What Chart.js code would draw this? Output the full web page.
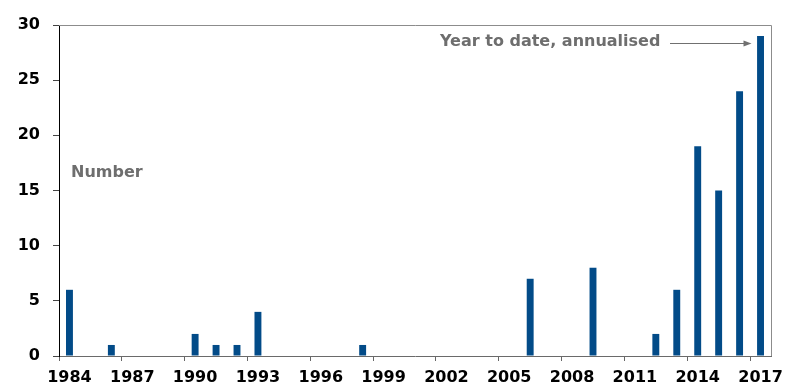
<!DOCTYPE html>
<html>
<head>
<meta charset="utf-8">
<script src="https://cdn.jsdelivr.net/npm/chart.js@4/dist/chart.umd.min.js"></script>
<style>
  html, body { margin: 0; padding: 0; background: #fff; }
  #wrap { width: 800px; height: 389px; position: relative; }
</style>
</head>
<body>
<div id="wrap"><canvas id="barChart"></canvas></div>
<script>
// Categories: one per year
const years = [
    '1984', '1985', '1986', '1987', '1988', '1989', '1990', '1991', '1992', '1993',
    '1994', '1995', '1996', '1997', '1998', '1999', '2000', '2001', '2002', '2003',
    '2004', '2005', '2006', '2007', '2008', '2009', '2010', '2011', '2012', '2013',
    '2014', '2015', '2016', '2017'
];

// Number per year (2017 = year to date, annualised)
const counts = [
    6, 0, 1, 0, 0, 0, 2, 1, 1, 4,
    0, 0, 0, 0, 1, 0, 0, 0, 0, 0,
    0, 0, 7, 0, 0, 8, 0, 0, 2, 6,
    19, 15, 24, 29
];

const yTicks = [0, 5, 10, 15, 20, 25, 30];

const BAR_BLUE = '#024b88';
const NOTE_GREY = '#6e6e6e';
const FONT = '"DejaVu Sans", Verdana, sans-serif';

/**
 * Top/right frame, annotations and arrow
 */
const overlayPlugin = {
    id: 'overlay',
    afterDraw(chart) {
        const { ctx, chartArea: a, scales } = chart;
        ctx.save();

        // gray frame on top and right
        ctx.strokeStyle = '#8c8c8c';
        ctx.lineWidth = 1;
        ctx.beginPath();
        ctx.moveTo(a.left, a.top + 0.5);
        ctx.lineTo(a.right + 0.5, a.top + 0.5);
        ctx.lineTo(a.right + 0.5, a.bottom);
        ctx.stroke();

        // notes
        ctx.fillStyle = NOTE_GREY;
        ctx.font = 'bold 16px ' + FONT;
        ctx.textBaseline = 'middle';
        ctx.textAlign = 'left';
        ctx.fillText('Number', 71, 173);
        ctx.fillText('Year to date, annualised', 440, 42);

        // arrow to last bar
        const lastX = scales.x.getPixelForValue(years.length - 1) - 12;
        const ay = 43;
        ctx.strokeStyle = '#707070';
        ctx.beginPath();
        ctx.moveTo(670, ay + 0.5);
        ctx.lineTo(lastX, ay + 0.5);
        ctx.stroke();
        ctx.fillStyle = '#707070';
        ctx.beginPath();
        ctx.moveTo(lastX + 3, ay + 0.5);
        ctx.lineTo(lastX - 5, ay - 2.5);
        ctx.lineTo(lastX - 5, ay + 3.5);
        ctx.closePath();
        ctx.fill();

        ctx.restore();
    }
};

function renderChart() {
    const ctx = document.getElementById('barChart').getContext('2d');

    new Chart(ctx, {
        type: 'bar',
        data: {
            labels: years,
            datasets: [{
                data: counts,
                backgroundColor: BAR_BLUE,
                borderWidth: 0,
                categoryPercentage: 1,
                barPercentage: 0.33
            }]
        },
        options: {
            responsive: true,
            maintainAspectRatio: false,
            animation: false,
            devicePixelRatio: 1,
            layout: { padding: { left: 0, right: 29, top: 25, bottom: 0 } },
            plugins: {
                legend: { display: false },
                tooltip: { enabled: false }
            },
            scales: {
                x: {
                    offset: true,
                    grid: {
                        offset: true,
                        drawOnChartArea: false,
                        drawTicks: true,
                        tickLength: 5,
                        color: (c) => (c.index % 3 === 0 ? '#666' : 'rgba(0,0,0,0)')
                    },
                    border: { display: true, color: '#6a6a6a', width: 1 },
                    ticks: {
                        autoSkip: false,
                        maxRotation: 0,
                        padding: 7,
                        color: '#000',
                        font: { family: FONT, size: 16, weight: 'bold' },
                        callback: (val, i) => (i % 3 === 0 ? years[i] : '')
                    },
                    afterFit: (s) => { s.height = 33; }
                },
                y: {
                    min: 0,
                    max: 30,
                    afterBuildTicks: (s) => { s.ticks = yTicks.map(v => ({ value: v })); },
                    grid: {
                        drawOnChartArea: false,
                        drawTicks: true,
                        tickLength: 6,
                        color: '#444'
                    },
                    border: { display: true, color: '#000', width: 1 },
                    ticks: {
                        padding: 13,
                        color: '#000',
                        font: { family: FONT, size: 16, weight: 'bold' }
                    },
                    afterFit: (s) => { s.width = 59; }
                }
            }
        },
        plugins: [overlayPlugin]
    });
}

window.addEventListener('DOMContentLoaded', renderChart);
</script>
</body>
</html>
